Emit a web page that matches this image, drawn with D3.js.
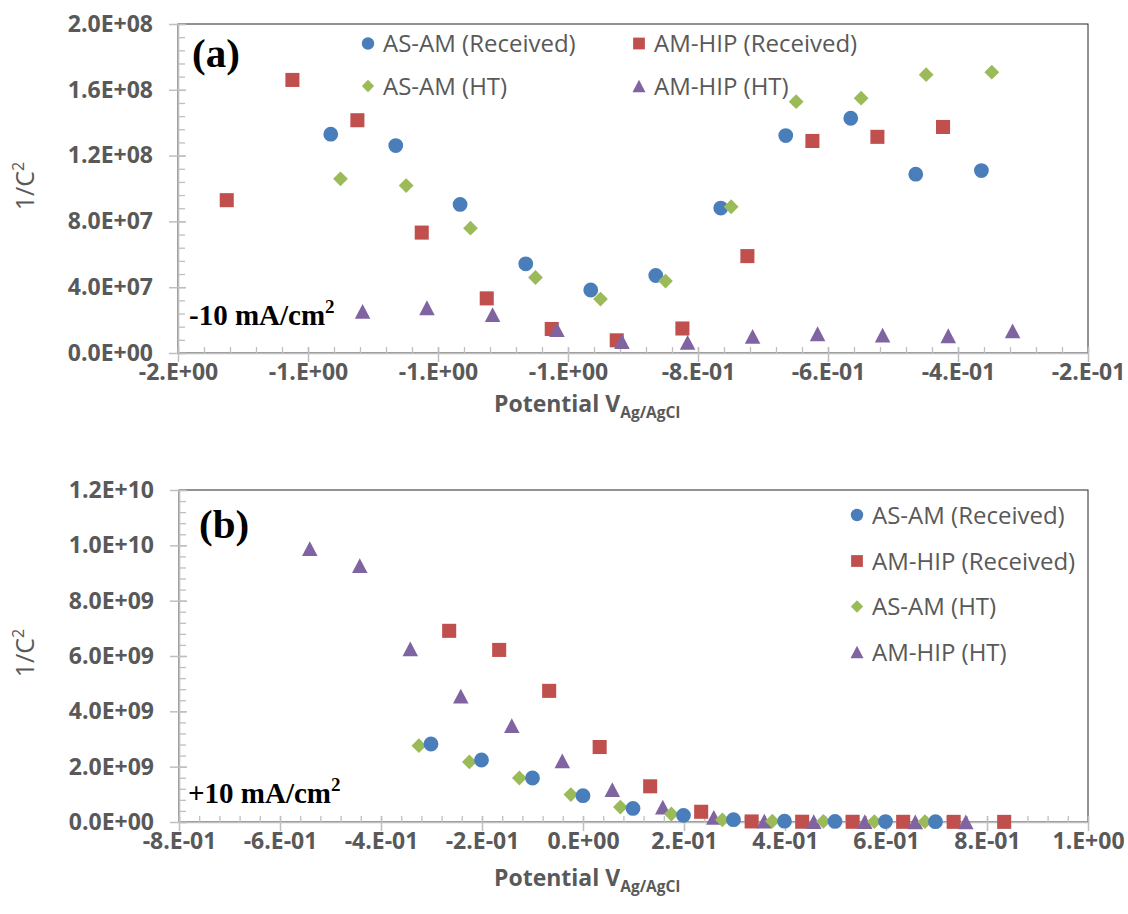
<!DOCTYPE html>
<html>
<head>
<meta charset="utf-8">
<script src="https://cdn.jsdelivr.net/npm/d3@7"></script>
<style>
  body { margin: 0; background: #fff; }
  .tick text { font-family: "Open Sans", sans-serif; font-weight: 700; font-size: 23px; fill: #595959; }
  .legend-text { font-family: "Open Sans", sans-serif; font-size: 24px; fill: #595959; }
  .axis-title { font-family: "Open Sans", sans-serif; fill: #595959; }
  .panel-label { font-family: "Liberation Serif", "Times New Roman", serif; font-weight: 700; fill: #000; }
</style>
</head>
<body>
<div id="chart"></div>
<script>
// ---------- data : panel (a), -10 mA/cm2 ----------
var xA_asamRec = [-1.365, -1.265, -1.166, -1.065, -0.965, -0.865, -0.765, -0.665, -0.565, -0.465, -0.364];
var yA_asamRec = [1.330e8, 1.261e8, 9.03e7, 5.42e7, 3.83e7, 4.71e7, 8.81e7, 1.322e8, 1.427e8, 1.087e8, 1.109e8];
var xA_hipRec = [-1.525, -1.424, -1.324, -1.225, -1.125, -1.025, -0.925, -0.824, -0.724, -0.624, -0.524, -0.423];
var yA_hipRec = [9.29e7, 1.660e8, 1.415e8, 7.32e7, 3.32e7, 1.46e7, 7.7e6, 1.49e7, 5.89e7, 1.289e8, 1.314e8, 1.374e8];
var xA_asamHT = [-1.350, -1.249, -1.150, -1.050, -0.950, -0.850, -0.749, -0.649, -0.549, -0.449, -0.348];
var yA_asamHT = [1.059e8, 1.018e8, 7.59e7, 4.59e7, 3.28e7, 4.37e7, 8.89e7, 1.528e8, 1.549e8, 1.692e8, 1.707e8];
var xA_hipHT = [-1.316, -1.217, -1.116, -1.017, -0.917, -0.816, -0.716, -0.616, -0.516, -0.415, -0.316];
var yA_hipHT = [2.53e7, 2.75e7, 2.33e7, 1.42e7, 7.0e6, 6.4e6, 1.01e7, 1.17e7, 1.09e7, 1.05e7, 1.35e7];

// ---------- data : panel (b), +10 mA/cm2 ----------
var xB_asamRec = [-0.301, -0.201, -0.100, 0.000, 0.099, 0.199, 0.298, 0.399, 0.499, 0.599, 0.698];
var yB_asamRec = [2.82e9, 2.24e9, 1.59e9, 9.5e8, 4.9e8, 2.4e8, 8.5e7, 3e7, 2e7, 1.5e7, 1.2e7];
var xB_hipRec = [-0.265, -0.166, -0.067, 0.033, 0.133, 0.234, 0.334, 0.434, 0.534, 0.634, 0.734, 0.834];
var yB_hipRec = [6.91e9, 6.22e9, 4.74e9, 2.71e9, 1.29e9, 3.7e8, 2e7, 1e7, 8e6, 7e6, 6e6, 5e6];
var xB_asamHT = [-0.325, -0.225, -0.126, -0.024, 0.074, 0.175, 0.276, 0.375, 0.476, 0.577, 0.677];
var yB_asamHT = [2.76e9, 2.17e9, 1.59e9, 9.9e8, 5.4e8, 2.9e8, 8e7, 3e7, 2e7, 1.5e7, 1.2e7];
var xB_hipHT = [-0.541, -0.442, -0.342, -0.242, -0.141, -0.041, 0.058, 0.158, 0.259, 0.359, 0.457, 0.558, 0.658, 0.758];
var yB_hipHT = [9.88e9, 9.27e9, 6.26e9, 4.55e9, 3.48e9, 2.21e9, 1.17e9, 5.4e8, 1.7e8, 3e7, 1.5e7, 1e7, 8e6, 6e6];

// ---------- series names and tick labels ----------
var seriesNames = ["AS-AM (Received)", "AM-HIP (Received)", "AS-AM (HT)", "AM-HIP (HT)"];

var xTicksA = [-1.6, -1.4, -1.2, -1.0, -0.8, -0.6, -0.4, -0.2];
var xLabelsA = ["-2.E+00", "-1.E+00", "-1.E+00", "-1.E+00", "-8.E-01", "-6.E-01", "-4.E-01", "-2.E-01"];
var yTicksA = [0, 4e7, 8e7, 1.2e8, 1.6e8, 2e8];
var yLabelsA = ["0.0E+00", "4.0E+07", "8.0E+07", "1.2E+08", "1.6E+08", "2.0E+08"];

var xTicksB = [-0.8, -0.6, -0.4, -0.2, 0, 0.2, 0.4, 0.6, 0.8, 1.0];
var xLabelsB = ["-8.E-01", "-6.E-01", "-4.E-01", "-2.E-01", "0.E+00", "2.E-01", "4.E-01", "6.E-01", "8.E-01", "1.E+00"];
var yTicksB = [0, 2e9, 4e9, 6e9, 8e9, 1e10, 1.2e10];
var yLabelsB = ["0.0E+00", "2.0E+09", "4.0E+09", "6.0E+09", "8.0E+09", "1.0E+10", "1.2E+10"];

// ---------- styles ----------
var colors = ["#4a7ebb", "#c0504d", "#9bbb59", "#8064a2"];
var shapes = ["circle", "square", "diamond", "triangle"];
var axisColor = "#bfbfbf";

function markerPath(shape, s) {
  if (shape == "circle") {
    return "M" + s + ",0A" + s + "," + s + " 0 1,1 " + (-s) + ",0A" + s + "," + s + " 0 1,1 " + s + ",0Z";
  }
  if (shape == "square") {
    var h = s * 0.95;
    return "M" + (-h) + "," + (-h) + "H" + h + "V" + h + "H" + (-h) + "Z";
  }
  if (shape == "diamond") {
    return "M0," + (-s) + "L" + s + ",0L0," + s + "L" + (-s) + ",0Z";
  }
  // triangle
  var w = s * 1.05, t = s;
  return "M0," + (-t) + "L" + w + "," + t + "L" + (-w) + "," + t + "Z";
}

var svg = d3.select("#chart")
  .append("svg")
    .attr("width", 1128)
    .attr("height", 914);

svg.append("rect")
  .attr("width", 1128)
  .attr("height", 914)
  .attr("fill", "#fff");

function drawPanel(p) {
  var x = d3.scaleLinear().domain(p.xDomain).range(p.xRange);
  var y = d3.scaleLinear().domain(p.yDomain).range(p.yRange);

  // plot area border (top / right show as dark lines)
  svg.append("rect")
    .attr("x", p.xRange[0])
    .attr("y", p.yRange[1])
    .attr("width", p.xRange[1] - p.xRange[0])
    .attr("height", p.yRange[0] - p.yRange[1])
    .attr("fill", "none")
    .attr("stroke", "#262626")
    .attr("stroke-width", 1);

  // minor ticks, inside the plot
  var xStep = (p.xDomain[1] - p.xDomain[0]) / (p.xTicks.length - 1) / 5;
  var yStep = (p.yDomain[1] - p.yDomain[0]) / (p.yTicks.length - 1) / 5;
  var xMinor = d3.range(p.xDomain[0], p.xDomain[1] + xStep / 2, xStep);
  var yMinor = d3.range(p.yDomain[0], p.yDomain[1] + yStep / 2, yStep);

  var gxMinor = svg.append("g")
    .attr("transform", "translate(0," + p.yRange[0] + ")")
    .call(d3.axisBottom(x).tickValues(xMinor).tickSize(-6).tickFormat(""));
  var gyMinor = svg.append("g")
    .attr("transform", "translate(" + p.xRange[0] + ",0)")
    .call(d3.axisLeft(y).tickValues(yMinor).tickSize(-7).tickFormat(""));
  [gxMinor, gyMinor].forEach(function (g) {
    g.select(".domain").remove();
    g.selectAll("line").attr("stroke", axisColor).attr("stroke-width", 1.3);
  });

  // major X axis
  var gx = svg.append("g")
    .attr("transform", "translate(0," + p.yRange[0] + ")")
    .call(d3.axisBottom(x)
      .tickValues(p.xTicks)
      .tickFormat(function (d, i) { return p.xLabels[i]; })
      .tickSizeOuter(0));
  gx.selectAll(".tick line").attr("y1", -6).attr("y2", 9);
  gx.selectAll(".tick text").attr("y", 11);

  // major Y axis
  var gy = svg.append("g")
    .attr("transform", "translate(" + p.xRange[0] + ",0)")
    .call(d3.axisLeft(y)
      .tickValues(p.yTicks)
      .tickFormat(function (d, i) { return p.yLabels[i]; })
      .tickSizeOuter(0));
  gy.selectAll(".tick line").attr("x1", -9).attr("x2", 8);
  gy.selectAll(".tick text").attr("x", -25);

  [gx, gy].forEach(function (g) {
    g.attr("font-family", null).attr("font-size", null);
    g.select(".domain").attr("stroke", axisColor).attr("stroke-width", 1.6);
    g.selectAll(".tick line").attr("stroke", axisColor).attr("stroke-width", 1.5);
  });

  // points
  p.order.forEach(function (k) {
    var s = p.series[k];
    var pts = s.x.map(function (v, i) { return { x: v, y: s.y[i] }; });
    svg.append("g")
      .selectAll("path")
      .data(pts)
      .enter()
      .append("path")
        .attr("transform", function (d) { return "translate(" + x(d.x) + "," + y(d.y) + ")"; })
        .attr("d", markerPath(shapes[k], 7.4))
        .attr("fill", colors[k]);
  });

  // legend
  p.legend.forEach(function (pos, k) {
    svg.append("path")
      .attr("transform", "translate(" + pos[0] + "," + pos[1] + ")")
      .attr("d", markerPath(shapes[k], 6.2))
      .attr("fill", colors[k]);
    svg.append("text")
      .attr("class", "legend-text")
      .attr("x", pos[0] + 15)
      .attr("y", pos[1])
      .attr("dy", "0.36em")
      .text(seriesNames[k]);
  });

  // axis titles
  var yt = svg.append("text")
    .attr("class", "axis-title")
    .attr("transform", "translate(" + 34 + "," + p.yTitleY + ") rotate(-90)")
    .attr("text-anchor", "middle")
    .style("font-size", "25px");
  yt.append("tspan").text("1/C");
  yt.append("tspan").attr("dy", -10).style("font-size", "16px").text("2");

  var xt = svg.append("text")
    .attr("class", "axis-title")
    .attr("x", 494)
    .attr("y", p.xTitleY)
    .style("font-weight", 700)
    .style("font-size", "23px");
  xt.append("tspan").text("Potential V");
  xt.append("tspan").attr("dy", 6).style("font-size", "15.5px").text("Ag/AgCl");

  // panel letter and current density
  svg.append("text")
    .attr("class", "panel-label")
    .attr("x", p.letterPos[0])
    .attr("y", p.letterPos[1])
    .style("font-size", "41px")
    .text(p.letter);

  var cd = svg.append("text")
    .attr("class", "panel-label")
    .attr("x", p.cdPos[0])
    .attr("y", p.cdPos[1])
    .style("font-size", "29px");
  cd.append("tspan").text(p.cd);
  cd.append("tspan").attr("dy", -12).style("font-size", "19px").text("2");
}

drawPanel({
  xDomain: [-1.6, -0.2], xRange: [178, 1088],
  yDomain: [0, 2e8], yRange: [353, 24],
  xTicks: xTicksA, xLabels: xLabelsA,
  yTicks: yTicksA, yLabels: yLabelsA,
  series: [
    { x: xA_asamRec, y: yA_asamRec },
    { x: xA_hipRec, y: yA_hipRec },
    { x: xA_asamHT, y: yA_asamHT },
    { x: xA_hipHT, y: yA_hipHT }
  ],
  order: [0, 1, 2, 3],
  legend: [[368, 43.5], [639, 43.5], [368, 86], [639, 86]],
  yTitleY: 186, xTitleY: 412,
  letter: "(a)", letterPos: [192, 67],
  cd: "-10 mA/cm", cdPos: [189, 325]
});

drawPanel({
  xDomain: [-0.8, 1.0], xRange: [179, 1088],
  yDomain: [0, 1.2e10], yRange: [822, 490],
  xTicks: xTicksB, xLabels: xLabelsB,
  yTicks: yTicksB, yLabels: yLabelsB,
  series: [
    { x: xB_asamRec, y: yB_asamRec },
    { x: xB_hipRec, y: yB_hipRec },
    { x: xB_asamHT, y: yB_asamHT },
    { x: xB_hipHT, y: yB_hipHT }
  ],
  order: [1, 3, 2, 0],
  legend: [[857, 515], [857, 561], [857, 606.5], [857, 652]],
  yTitleY: 653, xTitleY: 886,
  letter: "(b)", letterPos: [199, 538],
  cd: "+10 mA/cm", cdPos: [188, 803]
});
</script>
</body>
</html>
